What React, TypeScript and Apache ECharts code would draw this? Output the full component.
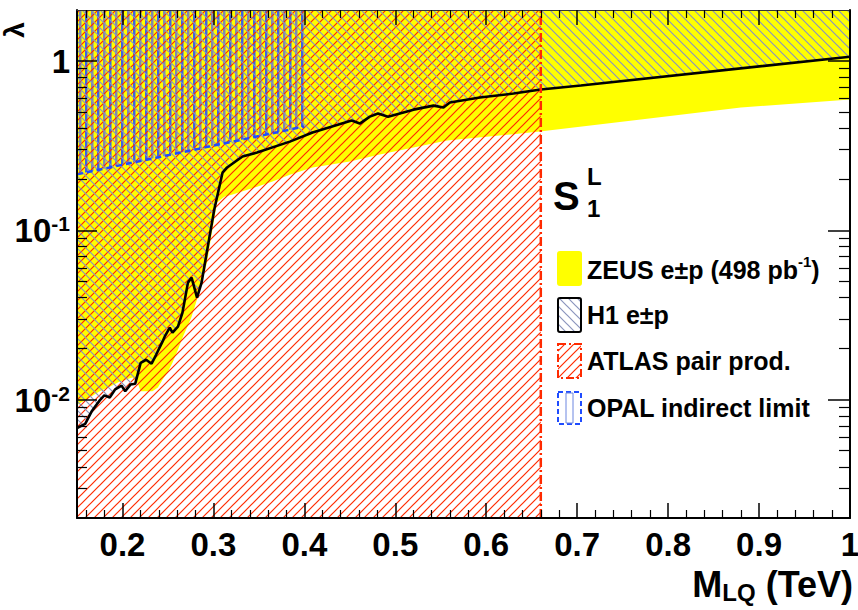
import React, { useEffect, useRef } from 'react';
import * as echarts from 'echarts';

// ---------- data ----------
const h1Mass = [0.150, 0.159, 0.166, 0.175, 0.180, 0.186, 0.192, 0.199, 0.203, 0.209, 0.214, 0.220, 0.226, 0.232, 0.237, 0.244, 0.247, 0.252, 0.255, 0.261, 0.266, 0.272, 0.276, 0.282, 0.287, 0.294, 0.301, 0.310, 0.315, 0.332, 0.348, 0.384, 0.409, 0.452, 0.461, 0.472, 0.481, 0.492, 0.520, 0.542, 0.553, 0.560, 0.593, 0.630, 0.660, 0.704, 1.000];
const h1Lambda = [0.0068, 0.0072, 0.0085, 0.0099, 0.0106, 0.0103, 0.0115, 0.0121, 0.0112, 0.0123, 0.0124, 0.0165, 0.0172, 0.0163, 0.0184, 0.0220, 0.0239, 0.0266, 0.0249, 0.0270, 0.0327, 0.0491, 0.0526, 0.0400, 0.0491, 0.0812, 0.133, 0.219, 0.235, 0.273, 0.288, 0.334, 0.378, 0.445, 0.427, 0.469, 0.489, 0.469, 0.516, 0.545, 0.531, 0.568, 0.608, 0.642, 0.678, 0.716, 1.06];

const zeusMass = [0.150, 0.164, 0.175, 0.186, 0.197, 0.211, 0.217, 0.220, 0.233, 0.239, 0.244, 0.250, 0.255, 0.261, 0.266, 0.272, 0.276, 0.283, 0.288, 0.293, 0.298, 0.304, 0.312, 0.321, 0.348, 0.365, 0.384, 0.409, 0.450, 0.483, 0.557, 0.659, 0.770, 0.880, 1.000];
const zeusLambda = [0.0093, 0.0103, 0.0112, 0.0119, 0.0128, 0.0135, 0.0124, 0.0112, 0.0112, 0.0118, 0.0131, 0.0146, 0.0165, 0.0197, 0.0232, 0.0274, 0.0309, 0.0406, 0.0512, 0.0645, 0.0943, 0.146, 0.158, 0.163, 0.181, 0.194, 0.213, 0.235, 0.255, 0.280, 0.339, 0.383, 0.451, 0.531, 0.592];

const opalMass = [0.15, 0.40];
const opalLambda = [0.214, 0.41];

const atlasMass = [0.15, 0.66];
const atlasLimit = 0.66;

const xRange = [0.15, 1.0];
const yRange = [0.002, 2];

const xMajorTicks = [0.2, 0.3, 0.4, 0.5, 0.6, 0.7, 0.8, 0.9, 1.0];
const xMinorTicks = [0.16, 0.18, 0.22, 0.24, 0.26, 0.28, 0.32, 0.34, 0.36, 0.38, 0.42, 0.44, 0.46, 0.48, 0.52, 0.54, 0.56, 0.58, 0.62, 0.64, 0.66, 0.68, 0.72, 0.74, 0.76, 0.78, 0.82, 0.84, 0.86, 0.88, 0.92, 0.94, 0.96, 0.98];
const yMajorTicks = [0.01, 0.1, 1];
const yMinorTicks = [0.003, 0.004, 0.005, 0.006, 0.007, 0.008, 0.009, 0.02, 0.03, 0.04, 0.05, 0.06, 0.07, 0.08, 0.09, 0.2, 0.3, 0.4, 0.5, 0.6, 0.7, 0.8, 0.9];

const legendLabels = ['ZEUS e±p (498 pb', 'H1 e±p', 'ATLAS pair prod.', 'OPAL indirect limit'];
const xTitle = ['M', 'LQ', ' (TeV)'];
const yTitle = 'λ';

// ---------- styles ----------
const FONT = '"Liberation Sans", Arial, sans-serif';
const YELLOW = '#ffff00';
const RED = '#ff2a00';
const GREY = '#8a94bd';
const BLUE = '#1f4cff';

function svgPattern(inner: string, w: number, h: number) {
  const svg = `<svg xmlns="http://www.w3.org/2000/svg" width="${w}" height="${h}">${inner}</svg>`;
  return {
    type: 'pattern',
    image: 'data:image/svg+xml;charset=utf-8,' + encodeURIComponent(svg),
    repeat: 'repeat',
    imageWidth: w,
    imageHeight: h,
  } as any;
}
const S = 9;
const redHatch = svgPattern(
  `<path d="M0 ${S} L${S} 0 M-2 2 L2 -2 M${S - 2} ${S + 2} L${S + 2} ${S - 2}" stroke="${RED}" stroke-width="1.2" fill="none"/>`,
  S, S);
const greyHatch = svgPattern(
  `<path d="M0 0 L${S} ${S} M-2 ${S - 2} L2 ${S + 2} M${S - 2} -2 L${S + 2} 2" stroke="${GREY}" stroke-width="1.2" fill="none"/>`,
  S, S);
const vertHatch = svgPattern(
  `<rect x="1" y="0" width="2.5" height="12" fill="#3f63e0"/><rect x="7" y="0" width="2.5" height="12" fill="#8089ad"/>`,
  12, 12);

const zip = (a: number[], b: number[]) => a.map((v, i) => [v, b[i]]);

export default function App() {
  const ref = useRef<HTMLDivElement>(null);
  useEffect(() => {
    if (!ref.current) return;
    const chart = echarts.init(ref.current, undefined, { renderer: 'svg' });

    const xBase = (pos: 'top' | 'bottom') => ({
      type: 'value', min: xRange[0], max: xRange[1], position: pos, z: 10,
      splitLine: { show: false },
    });
    const yBase = (pos: 'left' | 'right') => ({
      type: 'log', logBase: 10, min: yRange[0], max: yRange[1], position: pos, z: 10,
      splitLine: { show: false },
    });
    const frame = { show: true, lineStyle: { color: '#000', width: 2 } };

    const option: any = {
      animation: false,
      backgroundColor: '#fff',
      grid: { left: 77, right: 8, top: 10, bottom: 92, containLabel: false, outerBoundsMode: 'none' },
      xAxis: [
        {
          ...xBase('bottom'),
          axisLine: frame,
          axisTick: { show: true, inside: true, length: 15, customValues: xMajorTicks, lineStyle: { color: '#000', width: 1.5 } },
          axisLabel: {
            show: true, customValues: xMajorTicks, margin: 10,
            fontFamily: FONT, fontWeight: 'bold', fontSize: 33, color: '#000',
            formatter: (v: number) => (Math.abs(v - 1) < 1e-9 ? '1' : v.toFixed(1)),
          },
        },
        {
          ...xBase('bottom'),
          axisLine: { show: false },
          axisTick: { show: true, inside: true, length: 8, customValues: xMinorTicks, lineStyle: { color: '#000', width: 1.2 } },
          axisLabel: { show: false },
        },
        {
          ...xBase('top'),
          axisLine: { show: true, lineStyle: { color: '#333', width: 1 } },
          axisTick: { show: true, inside: true, length: 15, customValues: xMajorTicks, lineStyle: { color: '#000', width: 1.5 } },
          axisLabel: { show: false },
        },
        {
          ...xBase('top'),
          axisLine: { show: false },
          axisTick: { show: true, inside: true, length: 8, customValues: xMinorTicks, lineStyle: { color: '#000', width: 1.2 } },
          axisLabel: { show: false },
        },
      ],
      yAxis: [
        {
          ...yBase('left'),
          axisLine: frame,
          axisTick: { show: true, inside: true, length: 20, customValues: yMajorTicks, lineStyle: { color: '#000', width: 1.5 } },
          axisLabel: {
            show: true, customValues: yMajorTicks, margin: 7,
            formatter: (v: number) => {
              const e = Math.round(Math.log10(v));
              return e === 0 ? '{n|1}' : `{n|10}{s|${e}}`;
            },
            rich: {
              n: { fontFamily: FONT, fontWeight: 'bold', fontSize: 33, color: '#000', lineHeight: 34, verticalAlign: 'bottom', padding: [12, 0, 0, 0] },
              s: { fontFamily: FONT, fontWeight: 'bold', fontSize: 21, color: '#000', lineHeight: 22, verticalAlign: 'top' },
            },
          },
        },
        {
          ...yBase('left'),
          axisLine: { show: false },
          axisTick: { show: true, inside: true, length: 10, customValues: yMinorTicks, lineStyle: { color: '#000', width: 1.2 } },
          axisLabel: { show: false },
        },
        {
          ...yBase('right'),
          axisLine: frame,
          axisTick: { show: true, inside: true, length: 22, customValues: yMajorTicks, lineStyle: { color: '#000', width: 1.5 } },
          axisLabel: { show: false },
        },
        {
          ...yBase('right'),
          axisLine: { show: false },
          axisTick: { show: true, inside: true, length: 11, customValues: yMinorTicks, lineStyle: { color: '#000', width: 1.2 } },
          axisLabel: { show: false },
        },
      ],
      series: [
        {
          name: 'ZEUS', type: 'line', z: 1, silent: true, showSymbol: false,
          data: zip(zeusMass, zeusLambda),
          lineStyle: { width: 0 },
          areaStyle: { color: YELLOW, opacity: 1, origin: 'end' },
        },
        {
          name: 'OPAL area', type: 'line', z: 2, silent: true, showSymbol: false,
          data: zip(opalMass, opalLambda),
          lineStyle: { width: 0 },
          areaStyle: { color: vertHatch, opacity: 1, origin: 'end' },
        },
        {
          name: 'ATLAS area', type: 'line', z: 3, silent: true, showSymbol: false,
          data: atlasMass.map((m) => [m, yRange[1]]),
          lineStyle: { width: 0 },
          areaStyle: { color: redHatch, opacity: 1, origin: 'start' },
        },
        {
          name: 'H1', type: 'line', z: 4, silent: true, showSymbol: false,
          data: zip(h1Mass, h1Lambda),
          lineStyle: { color: '#000', width: 2.6 },
          areaStyle: { color: greyHatch, opacity: 1, origin: 'end' },
        },
        {
          name: 'OPAL line', type: 'line', z: 5, silent: true, showSymbol: false,
          data: zip(opalMass, opalLambda),
          lineStyle: { color: BLUE, width: 2.5, type: [6, 4] },
        },
        {
          name: 'ATLAS line', type: 'line', z: 5, silent: true, showSymbol: false,
          data: [[atlasLimit, yRange[0]], [atlasLimit, yRange[1]]],
          lineStyle: { color: RED, width: 2.5, type: [9, 3, 2, 3] },
        },
      ],
      graphic: [
        // y-axis title (top-left corner)
        {
          type: 'text', x: 14, y: 30, rotation: Math.PI / 2,
          style: { text: yTitle, font: `bold 28px ${FONT}`, fill: '#000', align: 'center', verticalAlign: 'middle' },
        },
        // S_1^L
        { type: 'text', x: 553, y: 176, style: { text: 'S', font: `bold 40px ${FONT}`, fill: '#000' } },
        { type: 'text', x: 587, y: 164, style: { text: 'L', font: `bold 24px ${FONT}`, fill: '#000' } },
        { type: 'text', x: 587, y: 196, style: { text: '1', font: `bold 24px ${FONT}`, fill: '#000' } },
        // legend
        { type: 'rect', shape: { x: 557, y: 251, width: 25, height: 35, r: 3 }, style: { fill: YELLOW } },
        {
          type: 'text', x: 587, y: 268,
          style: {
            text: `{t|${legendLabels[0]}}{s|-1}{t|)}`, verticalAlign: 'middle',
            rich: {
              t: { font: `bold 25px ${FONT}`, fill: '#000', lineHeight: 28, verticalAlign: 'bottom' },
              s: { font: `bold 15px ${FONT}`, fill: '#000', lineHeight: 15, verticalAlign: 'top' },
            },
          },
        },
        { type: 'rect', shape: { x: 558, y: 298, width: 23, height: 34, r: 2 }, style: { fill: greyHatch, stroke: '#000', lineWidth: 2 } },
        { type: 'text', x: 587, y: 315, style: { text: legendLabels[1], verticalAlign: 'middle', font: `bold 25px ${FONT}`, fill: '#000' } },
        { type: 'rect', shape: { x: 558, y: 344, width: 23, height: 34 }, style: { fill: redHatch, stroke: RED, lineWidth: 2, lineDash: [8, 3, 2, 3] } },
        { type: 'text', x: 587, y: 361, style: { text: legendLabels[2], verticalAlign: 'middle', font: `bold 25px ${FONT}`, fill: '#000' } },
        { type: 'rect', shape: { x: 558, y: 392, width: 23, height: 32 }, style: { fill: 'none', stroke: BLUE, lineWidth: 2, lineDash: [5, 3] } },
        { type: 'rect', shape: { x: 566, y: 393, width: 7, height: 30 }, style: { fill: 'none', stroke: '#6d86e0', lineWidth: 1 } },
        { type: 'text', x: 587, y: 408, style: { text: legendLabels[3], verticalAlign: 'middle', font: `bold 25px ${FONT}`, fill: '#000' } },
        // x-axis title
        {
          type: 'text', x: 853, y: 585,
          style: {
            text: `{m|${xTitle[0]}}{b|${xTitle[1]}}{m|${xTitle[2]}}`, align: 'right', verticalAlign: 'middle',
            rich: {
              m: { font: `bold 36px ${FONT}`, fill: '#000', lineHeight: 38, verticalAlign: 'top' },
              b: { font: `bold 24px ${FONT}`, fill: '#000', lineHeight: 26, verticalAlign: 'bottom', padding: [18, 0, 0, 0] },
            },
          },
        },
      ],
    };
    chart.setOption(option);
    return () => chart.dispose();
  }, []);
  return <div ref={ref} style={{ width: 858, height: 610, position: 'absolute', left: 0, top: 0 }} />;
}
